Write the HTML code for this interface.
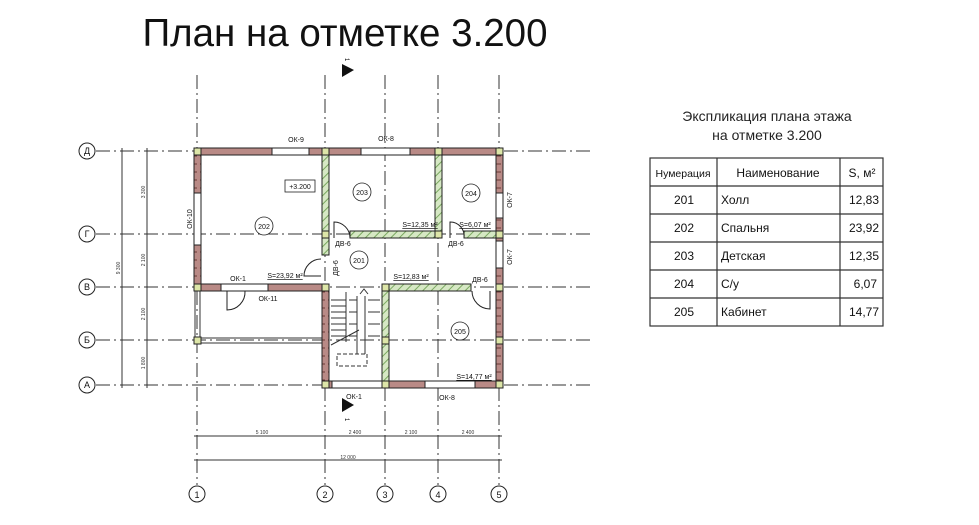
<!DOCTYPE html>
<html><head><meta charset="utf-8"><style>
html,body{margin:0;padding:0;background:#fff;width:979px;height:525px;overflow:hidden}
svg{display:block;font-family:"Liberation Sans",sans-serif}
</style></head><body>
<svg width="979" height="525" viewBox="0 0 979 525" xmlns="http://www.w3.org/2000/svg">
<defs>
<pattern id="br" width="8" height="8" patternUnits="userSpaceOnUse"><rect width="8" height="8" fill="#b98a86"/><path d="M0 4h5" stroke="#6a3a36" stroke-width="1"/></pattern>
<pattern id="gr" width="6" height="6" patternUnits="userSpaceOnUse" patternTransform="rotate(45)"><rect width="6" height="6" fill="#d6e8c4"/><path d="M0 0v6" stroke="#7aa860" stroke-width="2"/></pattern>
</defs>
<text x="345" y="46" font-size="38.5" text-anchor="middle" fill="#111">План на отметке 3.200</text>

<!-- grid lines -->
<g stroke="#333" stroke-width="1" stroke-dasharray="14,4,2,4" fill="none">
<line x1="197" y1="75" x2="197" y2="485"/><line x1="325" y1="75" x2="325" y2="485"/>
<line x1="385" y1="75" x2="385" y2="485"/><line x1="438" y1="75" x2="438" y2="485"/>
<line x1="499" y1="75" x2="499" y2="485"/>
<line x1="96" y1="151" x2="592" y2="151"/><line x1="96" y1="234" x2="592" y2="234"/>
<line x1="96" y1="287" x2="592" y2="287"/><line x1="96" y1="340" x2="592" y2="340"/>
<line x1="96" y1="385" x2="592" y2="385"/>
</g>
<g fill="#fff" stroke="#222" stroke-width="1" font-size="10" text-anchor="middle">
<circle cx="87" cy="151" r="8"/><circle cx="87" cy="234" r="8"/><circle cx="87" cy="287" r="8"/><circle cx="87" cy="340" r="8"/><circle cx="87" cy="385" r="8"/>
<circle cx="197" cy="494" r="8"/><circle cx="325" cy="494" r="8"/><circle cx="385" cy="494" r="8"/><circle cx="438" cy="494" r="8"/><circle cx="499" cy="494" r="8"/>
</g>
<g font-size="9" text-anchor="middle" fill="#111">
<text x="87" y="154">Д</text><text x="87" y="237">Г</text><text x="87" y="290">В</text><text x="87" y="343">Б</text><text x="87" y="388">А</text>
<text x="197" y="498">1</text><text x="325" y="498">2</text><text x="385" y="498">3</text><text x="438" y="498">4</text><text x="499" y="498">5</text>
</g>
<!-- dimension lines -->
<g stroke="#333" stroke-width="1">
<line x1="122" y1="148" x2="122" y2="388"/><line x1="147" y1="148" x2="147" y2="388"/>
<line x1="194" y1="436" x2="502" y2="436"/><line x1="194" y1="460" x2="502" y2="460"/>
</g>
<g font-size="5" fill="#333" text-anchor="middle">
<text x="262" y="434">5 100</text><text x="355" y="434">2 400</text><text x="411" y="434">2 100</text><text x="468" y="434">2 400</text><text x="348" y="459">12 000</text>
<text transform="translate(145,192) rotate(-90)">3 300</text><text transform="translate(145,260) rotate(-90)">2 100</text>
<text transform="translate(145,314) rotate(-90)">2 100</text><text transform="translate(145,363) rotate(-90)">1 800</text>
<text transform="translate(120,268) rotate(-90)">9 300</text>
</g>

<!-- balcony -->
<g stroke="#333" stroke-width="1" fill="none">
<line x1="195" y1="290" x2="195" y2="343"/><line x1="200" y1="290" x2="200" y2="343"/>
<line x1="197" y1="338" x2="322" y2="338"/><line x1="197" y1="343" x2="322" y2="343"/>
</g>

<!-- outer brown walls -->
<g fill="url(#br)" stroke="#222" stroke-width="1">
<rect x="194" y="148" width="78" height="7"/><rect x="309" y="148" width="52" height="7"/><rect x="410" y="148" width="93" height="7"/>
<rect x="194" y="148" width="7" height="45"/><rect x="194" y="245" width="7" height="45"/>
<rect x="496" y="148" width="7" height="45"/><rect x="496" y="218" width="7" height="23"/><rect x="496" y="268" width="7" height="120"/>
<rect x="194" y="284" width="27" height="7"/><rect x="268" y="284" width="57" height="7"/>
<rect x="322" y="284" width="7" height="104"/>
<rect x="322" y="381" width="10" height="7"/><rect x="385" y="381" width="40" height="7"/><rect x="475" y="381" width="28" height="7"/>
</g>
<!-- windows -->
<g fill="#fff" stroke="#222" stroke-width="1">
<rect x="272" y="148" width="37" height="7"/><rect x="361" y="148" width="49" height="7"/>
<rect x="194" y="193" width="7" height="52"/><rect x="496" y="193" width="7" height="25"/><rect x="496" y="241" width="7" height="27"/>
<rect x="221" y="284" width="47" height="7"/><rect x="332" y="381" width="53" height="7"/><rect x="425" y="381" width="50" height="7"/>
</g>
<!-- inner green walls -->
<g fill="url(#gr)" stroke="#222" stroke-width="1">
<rect x="322" y="155" width="7" height="100"/><rect x="350" y="231" width="90" height="7"/>
<rect x="435" y="155" width="7" height="83"/><rect x="464" y="231" width="35" height="7"/>
<rect x="382" y="284" width="7" height="97"/><rect x="389" y="284" width="82" height="7"/>
</g>
<!-- columns -->
<g fill="#dde6a8" stroke="#222" stroke-width="1">
<rect x="194" y="148" width="7" height="7"/><rect x="322" y="148" width="7" height="7"/><rect x="435" y="148" width="7" height="7"/><rect x="496" y="148" width="7" height="7"/>
<rect x="322" y="231" width="7" height="7"/><rect x="435" y="231" width="7" height="7"/><rect x="496" y="231" width="7" height="7"/>
<rect x="194" y="284" width="7" height="7"/><rect x="322" y="284" width="7" height="7"/><rect x="382" y="284" width="7" height="7"/><rect x="496" y="284" width="7" height="7"/>
<rect x="194" y="337" width="7" height="7"/><rect x="382" y="337" width="7" height="7"/><rect x="496" y="337" width="7" height="7"/>
<rect x="322" y="381" width="7" height="7"/><rect x="382" y="381" width="7" height="7"/><rect x="496" y="381" width="7" height="7"/>
</g>
<!-- doors -->
<g fill="none" stroke="#222" stroke-width="1">
<path d="M334 238 V222 A16 16 0 0 1 350 238"/>
<path d="M450 238 V222 A14 14 0 0 1 464 238"/>
<path d="M321 276 H304 A17 17 0 0 1 321 259"/>
<path d="M227 291 V310 A18 18 0 0 0 245 291"/>
<path d="M490 291 V309 A18 18 0 0 1 472 291"/>
</g>
<!-- stairs -->
<g stroke="#333" stroke-width="1" fill="none">
<path d="M331 300h15M331 306h15M331 312h15M331 318h15M331 324h15M331 330h15M331 336h15"/>
<path d="M346 292v50M331 345l28-15"/>
<path d="M349 300h8M349 312h8M349 324h8M349 336h8M357 296v58M365 296v58M368 300h12M368 312h12M368 324h12M368 336h12"/>
<rect x="337" y="354" width="30" height="12" stroke-dasharray="4,2"/>
<path d="M360 294l4-5 4 5"/>
</g>
<!-- labels -->
<g font-size="7" fill="#111" text-anchor="middle">
<text x="296" y="142">ОК-9</text><text x="386" y="141">ОК-8</text>
<text x="238" y="281">ОК-1</text><text x="268" y="301">ОК-11</text>
<text x="354" y="399">ОК-1</text><text x="447" y="400">ОК-8</text>
<text x="343" y="246">ДВ-6</text><text x="456" y="246">ДВ-6</text><text x="480" y="282">ДВ-6</text>
<text transform="translate(192,219) rotate(-90)">ОК-10</text>
<text transform="translate(512,200) rotate(-90)">ОК-7</text><text transform="translate(512,257) rotate(-90)">ОК-7</text>
<text transform="translate(338,268) rotate(-90)">ДВ-6</text>
<text x="285" y="278" text-decoration="underline">S=23,92 м²</text>
<text x="420" y="227" text-decoration="underline">S=12,35 м²</text>
<text x="475" y="227" text-decoration="underline">S=6,07 м²</text>
<text x="411" y="279" text-decoration="underline">S=12,83 м²</text>
<text x="474" y="379" text-decoration="underline">S=14,77 м²</text>
</g>
<g font-size="7" fill="#111" text-anchor="middle" stroke="#222" stroke-width="0.8">
<rect x="285" y="180" width="30" height="12" fill="#fff"/><text x="300" y="189" stroke="none">+3.200</text>
<circle cx="264" cy="226" r="9" fill="#fff"/><text x="264" y="229" stroke="none">202</text>
<circle cx="362" cy="192" r="9" fill="#fff"/><text x="362" y="195" stroke="none">203</text>
<circle cx="471" cy="193" r="9" fill="#fff"/><text x="471" y="196" stroke="none">204</text>
<circle cx="359" cy="260" r="9" fill="#fff"/><text x="359" y="263" stroke="none">201</text>
<circle cx="460" cy="331" r="9" fill="#fff"/><text x="460" y="334" stroke="none">205</text>
</g>
<!-- section marks -->
<path d="M342 64 L354 70 L342 77Z" fill="#111"/><text transform="translate(345,58) rotate(90)" font-size="6">1</text>
<path d="M342 398 L354 405 L342 412Z" fill="#111"/><text transform="translate(345,418) rotate(90)" font-size="6">1</text>

<!-- explication -->
<g font-size="14" fill="#222" text-anchor="middle">
<text x="767" y="121">Экспликация плана этажа</text><text x="767" y="140">на отметке 3.200</text>
</g>
<g stroke="#333" stroke-width="1.2" fill="none">
<rect x="650" y="158" width="233" height="168"/>
<line x1="717" y1="158" x2="717" y2="326"/><line x1="840" y1="158" x2="840" y2="326"/>
<line x1="650" y1="186" x2="883" y2="186"/><line x1="650" y1="214" x2="883" y2="214"/><line x1="650" y1="242" x2="883" y2="242"/><line x1="650" y1="270" x2="883" y2="270"/><line x1="650" y1="298" x2="883" y2="298"/>
</g>
<g font-size="12" fill="#111">
<text x="683" y="177" text-anchor="middle" font-size="10.5">Нумерация</text>
<text x="778" y="177" text-anchor="middle">Наименование</text>
<text x="862" y="177" text-anchor="middle">S, м²</text>
<g text-anchor="middle"><text x="684" y="204">201</text><text x="684" y="232">202</text><text x="684" y="260">203</text><text x="684" y="288">204</text><text x="684" y="316">205</text></g>
<text x="721" y="204">Холл</text><text x="721" y="232">Спальня</text><text x="721" y="260">Детская</text><text x="721" y="288">С/у</text><text x="721" y="316">Кабинет</text>
<g text-anchor="end"><text x="879" y="204">12,83</text><text x="879" y="232">23,92</text><text x="879" y="260">12,35</text><text x="877" y="288">6,07</text><text x="879" y="316">14,77</text></g>
</g>
</svg>
</body></html>
